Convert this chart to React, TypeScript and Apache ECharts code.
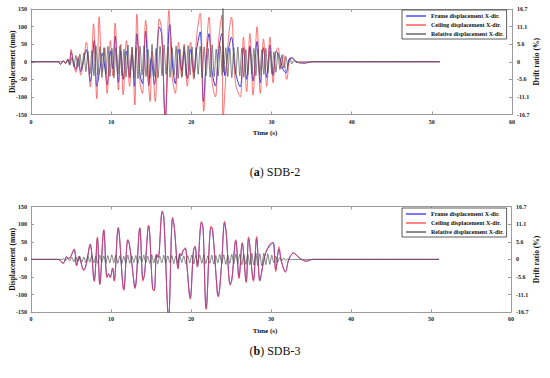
import React, { useEffect, useRef } from "react";
import * as echarts from "echarts";

const FONT = '"Liberation Serif", "Times New Roman", serif';

const seriesNames = [
  "Frame displacement X-dir.",
  "Ceiling displacement X-dir.",
  "Relative displacement X-dir.",
];
const captions = ["SDB-2", "SDB-3"];
const captionLetters = ["a", "b"];
const driftLabels = ["-16.7", "-11.1", "-5.6", "0", "5.6", "11.1", "16.7"];

// SDB-2 : [time (s), displacement (mm)]
const frameA = [
  [0, 0], [3.4, 0], [3.7, -7], [4.0, 2], [4.3, -4], [4.6, 6], [4.8, -6], [5.0, 28], [5.3, 0], [5.6, -22],
  [5.9, 10], [6.2, -28], [6.6, 8], [6.9, 35], [7.4, -56], [7.9, 61], [8.2, -70], [8.6, -20], [8.9, 25],
  [9.2, -15], [9.5, -66], [9.9, 30], [10.2, -20], [10.5, 73], [10.9, -59], [11.2, 30], [11.5, -50],
  [11.9, 30], [12.3, -45], [12.6, 20], [12.9, -70], [13.2, 80], [13.6, -35], [13.9, -62], [14.3, 87],
  [14.7, -68], [15.0, 10], [15.4, -65], [15.7, 25], [16.0, 99], [16.3, 78], [16.75, -160], [17.3, 106],
  [17.7, -20], [18.0, -62], [18.4, 35], [18.8, -25], [19.1, 30], [19.5, -48], [19.9, 35], [20.3, -30],
  [20.7, 40], [21.1, 85], [21.5, -113], [21.9, 20], [22.2, 80], [22.6, -30], [23.0, -69], [23.4, 30],
  [23.8, 80], [24.2, -40], [24.6, 30], [25.0, 70], [25.5, -30], [26.1, -72], [26.5, 40], [26.9, -50],
  [27.3, 45], [27.7, -55], [28.2, 58], [28.6, -60], [29.0, 40], [29.4, -45], [29.8, 48], [30.2, -40],
  [30.6, 30], [31.0, 15], [31.4, -20], [31.8, -32], [32.2, 8], [32.5, 10], [33.0, 2], [33.5, -3],
  [34.2, -4], [35, 0], [51, 0],
];
const ceilingA = [
  [0, 0], [3.4, 0], [3.7, -8], [4.0, 3], [4.3, -5], [4.6, 8], [4.8, -10], [5.0, 35], [5.3, -5], [5.6, -30],
  [5.9, 15], [6.2, -38], [6.6, 10], [6.9, 55], [7.4, -72], [7.8, 108], [8.2, -105], [8.5, 128], [8.9, -30],
  [9.2, 40], [9.5, -90], [9.9, 60], [10.2, -40], [10.5, 110], [10.9, -80], [11.2, 50], [11.5, -94],
  [11.9, 60], [12.3, -70], [12.6, 40], [12.95, -123], [13.2, 135], [13.6, -60], [13.9, -90], [14.3, 118],
  [14.85, -113], [15.1, 30], [15.5, -113], [15.8, 40], [16.0, 122], [16.3, 90], [16.75, -175], [17.2, 146],
  [17.6, -40], [18.0, -90], [18.4, 55], [18.8, -45], [19.1, 50], [19.5, -70], [19.9, 55], [20.3, -50],
  [20.7, 80], [21.1, 138], [21.55, -141], [21.9, 40], [22.2, 127], [22.6, -60], [23.0, -100], [23.4, 60],
  [23.8, 132], [23.95, -170], [24.2, -80], [24.6, 60], [25.0, 127], [25.5, -60], [26.1, -100], [26.5, 70],
  [26.9, -85], [27.3, 80], [27.7, -95], [28.2, 100], [28.6, -90], [29.0, 65], [29.4, -70], [29.8, 70],
  [30.2, -60], [30.5, 25], [30.8, 40], [31.2, -20], [31.5, 20], [31.9, -50], [32.3, 10], [32.6, 12],
  [33.0, 0], [33.5, -3], [34.2, -3], [35, 0], [51, 0],
];
const relativeA = [
  [0, 0], [3.9, 0], [4.1, 3], [4.35, -5], [4.6, 7], [4.85, -9], [5.1, 12], [5.35, -15], [5.6, 18], [5.85, -16],
  [6.1, 22], [6.35, -20], [6.6, 25], [6.85, -28], [7.1, 30], [7.35, -35], [7.6, 32], [7.85, -40], [8.1, 45],
  [8.35, -38], [8.6, 42], [8.85, -45], [9.1, 40], [9.35, -36], [9.6, 44], [9.85, -42], [10.1, 38],
  [10.35, -46], [10.6, 40], [10.85, -35], [11.1, 45], [11.35, -40], [11.6, 36], [11.85, -44], [12.1, 48],
  [12.35, -38], [12.6, 42], [12.85, -45], [13.1, 40], [13.35, -48], [13.6, 44], [13.85, -38], [14.1, 46],
  [14.35, -42], [14.6, 35], [14.85, -45], [15.1, 50], [15.35, -42], [15.6, 38], [15.85, -46], [16.1, 44],
  [16.35, -40], [16.6, 48], [16.85, -36], [17.1, 42], [17.35, -44], [17.6, 40], [17.85, -38], [18.1, 45],
  [18.35, -48], [18.6, 36], [18.85, -42], [19.1, 44], [19.35, -40], [19.6, 46], [19.85, -38], [20.1, 42],
  [20.35, -45], [20.6, 40], [20.85, -36], [21.1, 44], [21.35, -46], [21.6, 42], [21.85, -40], [22.1, 38],
  [22.35, -44], [22.6, 48], [22.85, -42], [23.1, 36], [23.35, -40], [23.6, 45], [23.85, -38], [23.95, 160],
  [24.05, -30], [24.3, 40], [24.55, -42], [24.8, 38], [25.05, -45], [25.3, 40], [25.55, -36], [25.8, 42],
  [26.05, -40], [26.3, 38], [26.55, -44], [26.8, 35], [27.05, -38], [27.3, 40], [27.55, -35], [27.8, 38],
  [28.05, -40], [28.3, 36], [28.55, -38], [28.8, 34], [29.05, -36], [29.3, 38], [29.55, -32], [29.8, 30],
  [30.05, -34], [30.3, 28], [30.55, -30], [30.8, 25], [31.05, -22], [31.3, 20], [31.55, -18], [31.8, 15],
  [32.05, -12], [32.3, 10], [32.55, -6], [32.8, 4], [33.1, -2], [33.5, 0], [51, 0],
];

// SDB-3 : [time (s), displacement (mm)]
const frameB = [
  [0, 0], [3.4, 0], [3.7, -4], [4.0, -11], [4.25, -2], [4.45, 8], [4.65, 3], [4.9, 5], [5.4, 28], [5.7, -17],
  [6.0, 8], [6.2, -5], [6.6, -30], [6.9, -14], [7.4, 42], [7.9, -60], [8.3, 60], [8.6, -70], [9.1, 82],
  [9.5, -50], [9.7, -42], [9.9, -50], [10.2, -25], [10.4, -60], [10.9, 88], [11.6, -85], [12.1, 55],
  [12.3, 42], [12.6, -10], [13.0, -80], [13.6, 88], [14.0, -58], [14.2, -40], [14.7, 95], [15.2, -82],
  [15.4, -87], [15.7, 15], [15.9, 5], [16.4, 135], [16.6, 120], [17.2, -165], [17.7, 116], [17.9, 93],
  [18.4, -25], [18.6, 17], [18.8, 10], [19.0, 24], [19.3, 31], [19.5, -20], [19.9, -110], [20.3, 22],
  [20.5, 36], [20.8, -20], [21.3, 104], [21.5, 91], [21.9, -139], [22.5, 91], [22.7, 83], [23.3, -96],
  [23.4, -104], [23.8, -20], [24.2, 105], [24.4, 74], [24.9, -70], [25.1, -58], [25.6, 53], [26.0, -51],
  [26.4, 45], [26.9, -63], [27.2, 60], [27.8, -58], [28.2, 60], [28.6, -60], [28.8, -40], [29.2, 8],
  [29.6, 31], [30.1, 45], [30.3, 48], [30.6, -30], [31.0, 30], [31.3, -5], [31.8, -35], [32.2, -2],
  [32.8, 18], [33.6, 3], [34.4, -5], [35.2, 0], [51, 0],
];
const ceilingB = [
  [0, 0], [3.4, 0], [3.7, -4], [4.0, -12], [4.25, -3], [4.45, 8], [4.65, 2], [4.9, 6], [5.4, 30], [5.7, -18],
  [6.0, 9], [6.2, -6], [6.6, -32], [6.9, -15], [7.4, 44], [7.9, -63], [8.3, 64], [8.6, -72], [9.1, 85],
  [9.5, -52], [9.7, -40], [9.9, -53], [10.2, -24], [10.4, -62], [10.9, 91], [11.6, -88], [12.1, 57],
  [12.3, 44], [12.6, -12], [13.0, -83], [13.6, 90], [14.0, -62], [14.2, -42], [14.7, 97], [15.2, -85],
  [15.4, -90], [15.7, 14], [15.9, 6], [16.4, 138], [16.6, 122], [17.2, -170], [17.7, 120], [17.9, 95],
  [18.4, -28], [18.6, 18], [18.8, 10], [19.0, 26], [19.3, 33], [19.5, -22], [19.9, -113], [20.3, 24],
  [20.5, 38], [20.8, -22], [21.3, 108], [21.5, 93], [21.9, -142], [22.5, 95], [22.7, 86], [23.3, -100],
  [23.4, -107], [23.8, -22], [24.2, 108], [24.4, 76], [24.9, -74], [25.1, -60], [25.6, 56], [26.0, -55],
  [26.4, 48], [26.9, -66], [27.2, 64], [27.8, -63], [28.2, 65], [28.6, -62], [28.8, -42], [29.2, 10],
  [29.6, 34], [30.1, 48], [30.3, 45], [30.6, -35], [31.0, 36], [31.3, -6], [31.8, -36], [32.2, -3],
  [32.8, 19], [33.6, 3], [34.4, -5], [35.2, 0], [51, 0],
];
const relativeB = [
  [0, 0], [3.9, 0], [4.1, 2], [4.35, -3], [4.6, 4], [4.85, -5], [5.1, 6], [5.35, -7], [5.6, 8], [5.85, -6],
  [6.1, 9], [6.35, -8], [6.6, 7], [6.85, -9], [7.1, 10], [7.35, -8], [7.6, 11], [7.85, -10], [8.1, 9],
  [8.35, -11], [8.6, 12], [8.85, -9], [9.1, 10], [9.35, -12], [9.6, 11], [9.85, -10], [10.1, 13],
  [10.35, -9], [10.6, 12], [10.85, -11], [11.1, 10], [11.35, -12], [11.6, 9], [11.85, -10], [12.1, 12],
  [12.35, -11], [12.6, 10], [12.85, -9], [13.1, 11], [13.35, -12], [13.6, 10], [13.85, -8], [14.1, 12],
  [14.35, -10], [14.6, 9], [14.85, -11], [15.1, 13], [15.35, -10], [15.6, 11], [15.85, -12], [16.1, 9],
  [16.35, -10], [16.6, 12], [16.85, -11], [17.1, 10], [17.35, -9], [17.6, 11], [17.85, -12], [18.1, 10],
  [18.35, -11], [18.6, 12], [18.85, -9], [19.1, 10], [19.35, -12], [19.6, 11], [19.85, -10], [20.1, 12],
  [20.35, -13], [20.6, 11], [20.85, -10], [21.1, 12], [21.35, -11], [21.6, 13], [21.85, -12], [22.1, 10],
  [22.35, -11], [22.6, 12], [22.85, -13], [23.1, 11], [23.35, -10], [23.6, 14], [23.85, -12], [24.1, 13],
  [24.35, -14], [24.6, 12], [24.85, -11], [25.1, 14], [25.35, -13], [25.6, 15], [25.85, -12], [26.1, 14],
  [26.35, -15], [26.6, 13], [26.85, -14], [27.1, 16], [27.35, -15], [27.6, 17], [27.85, -16], [28.1, 18],
  [28.35, -17], [28.6, 16], [28.85, -18], [29.1, 17], [29.35, -15], [29.6, 16], [29.85, -14], [30.1, 12],
  [30.35, -10], [30.6, 9], [30.85, -8], [31.1, 6], [31.35, -5], [31.6, 4], [31.85, -3], [32.1, 2],
  [32.4, -1], [32.8, 0], [51, 0],
];

const panels = [
  { frame: frameA, ceiling: ceilingA, relative: relativeA },
  { frame: frameB, ceiling: ceilingB, relative: relativeB },
];

// layout (px)
const grids = [
  { left: 31, top: 9, width: 481, height: 105.5 },
  { left: 31, top: 206.5, width: 480, height: 105.8 },
];
const timeLabelY = [133, 331];
const captionY = [172, 351];
const legendTop = [10, 208];

const COLORS = ["#3434e6", "#ff4545", "#505050"];
const OPACITY = [1, 0.75, 0.7];

function buildOption() {
  const axisLine = { show: true, onZero: false, lineStyle: { color: "#9c9c9c", width: 1 } };
  const axisTick = { show: true, inside: true, length: 3, lineStyle: { color: "#9c9c9c", width: 1 } };
  const labelStyle = { fontSize: 6, fontFamily: FONT, fontWeight: "bold" as const, color: "#222" };

  const xAxis: any[] = [];
  const yAxis: any[] = [];
  const series: any[] = [];
  const graphic: any[] = [];
  const legend: any[] = [];

  panels.forEach((p, i) => {
    const g = grids[i];
    xAxis.push({
      type: "value", gridIndex: i, position: "bottom", min: 0, max: 60, interval: 10,
      axisLine, axisTick, splitLine: { show: false },
      axisLabel: { ...labelStyle, margin: 4 },
    });
    xAxis.push({
      type: "value", gridIndex: i, position: "top", min: 0, max: 60, interval: 10,
      axisLine, axisTick, splitLine: { show: false }, axisLabel: { show: false },
    });
    yAxis.push({
      type: "value", gridIndex: i, position: "left", min: -150, max: 150, interval: 50,
      axisLine, axisTick, splitLine: { show: false },
      axisLabel: { ...labelStyle, margin: 4 },
    });
    yAxis.push({
      type: "value", gridIndex: i, position: "right", min: -150, max: 150, interval: 50,
      axisLine, axisTick, splitLine: { show: false },
      axisLabel: {
        ...labelStyle, margin: 5,
        formatter: (v: number) => driftLabels[Math.round((v + 150) / 50)],
      },
    });
    const data = [p.frame, p.ceiling, p.relative];
    data.forEach((d, k) => {
      series.push({
        type: "line", name: seriesNames[k], xAxisIndex: i * 2, yAxisIndex: i * 2,
        data: d, showSymbol: false, symbol: "none", silent: true,
        smooth: k === 2 ? 0.25 : 0.35,
        color: COLORS[k],
        lineStyle: { color: COLORS[k], width: 1, opacity: OPACITY[k] },
      });
    });
    legend.push({
      orient: "vertical", left: 402, top: legendTop[i], data: seriesNames,
      icon: "rect", itemWidth: 20, itemHeight: 1.3, itemGap: 2,
      padding: [2.5, 3, 1.5, 4], borderColor: "#333", borderWidth: 0.8, backgroundColor: "#fff",
      textStyle: { fontSize: 6, fontFamily: FONT, fontWeight: "bold", color: "#111", lineHeight: 7 },
      selectedMode: false,
    });
    const midY = g.top + g.height / 2;
    graphic.push({
      type: "text", x: 12, y: midY, rotation: Math.PI / 2,
      style: { text: "Displacement (mm)", font: `bold 7.5px ${FONT}`, fill: "#111", textAlign: "center", textVerticalAlign: "middle" },
    });
    graphic.push({
      type: "text", x: 536, y: midY, rotation: Math.PI / 2,
      style: { text: "Drift ratio (%)", font: `bold 7.5px ${FONT}`, fill: "#111", textAlign: "center", textVerticalAlign: "middle" },
    });
    graphic.push({
      type: "text", x: 265, y: timeLabelY[i],
      style: { text: "Time (s)", font: `bold 7px ${FONT}`, fill: "#111", textAlign: "center", textVerticalAlign: "middle" },
    });
    graphic.push({
      type: "text", x: 275, y: captionY[i],
      style: {
        text: `({b|${captionLetters[i]}}) ${captions[i]}`,
        font: `12px ${FONT}`, fill: "#111", textAlign: "center", textVerticalAlign: "middle",
        rich: { b: { fontWeight: "bold", fontSize: 12, fontFamily: FONT, fill: "#111" } },
      },
    });
  });

  return {
    animation: false,
    backgroundColor: "#fff",
    grid: grids.map((g) => ({ ...g, containLabel: false })),
    xAxis, yAxis, series, legend, graphic,
  };
}

export default function App() {
  const ref = useRef<HTMLDivElement>(null);
  useEffect(() => {
    document.body.style.margin = "0";
    const chart = echarts.init(ref.current!, null, { renderer: "svg" });
    chart.setOption(buildOption() as any);
    return () => chart.dispose();
  }, []);
  return <div ref={ref} style={{ position: "absolute", left: 0, top: 0, width: 550, height: 378 }} />;
}
